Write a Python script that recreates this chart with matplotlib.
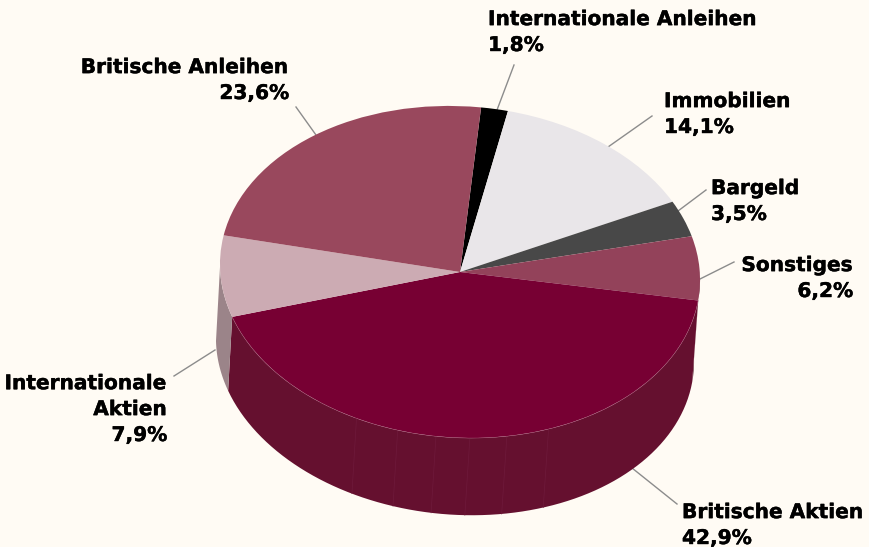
import matplotlib.pyplot as plt
import matplotlib.patheffects as pe
import numpy as np
from matplotlib.transforms import Affine2D

names = ['Internationale Anleihen', 'Immobilien', 'Bargeld', 'Sonstiges',
         'Britische Aktien', 'Internationale\nAktien', 'Britische Anleihen']
shares = [1.8, 14.1, 3.5, 6.2, 42.9, 7.9, 23.6]
top_colors = ['#000000', '#e9e6e9', '#484848', '#93425a', '#770033', '#ccabb3', '#99485d']
wall_colors = ['#000000', '#9c9a9c', '#303030', '#622c3c', '#65102f', '#9b8489', '#66303e']
seam_angles = [-116.5, -106, -96.7, -88.6, -79.7, -69.3]

bg = '#fffbf4'
start_angle = 84

# ellipse of the top face and of the bottom edge, in pixels
top = dict(cx=460, cy=272, rx=240, ry=166, skew=5, lean=-4)
bottom = dict(cx=455, cy=350, rx=239, ry=165, skew=9, lean=-4)

# x, y of last text line, alignment, leader line start and end
labels = [
    (488, 51, 'left', (497, 110), (514, 65)),
    (664, 133, 'left', (608, 147), (652, 116)),
    (711, 220, 'left', (678, 211), (706, 190)),
    (853, 297, 'right', (700, 279), (734, 262)),
    (682, 544, 'left', (632, 468), (677, 504)),
    (167, 441, 'right', (215, 350), (174, 376)),
    (289, 99, 'right', (316, 135), (296, 107)),
]


def ellipse_xy(e, deg):
    t = np.radians(deg)
    x = e['cx'] + e['rx'] * np.cos(t) + e['lean'] * np.sin(t)
    y = e['cy'] - e['ry'] * np.sin(t) + e['skew'] * np.cos(t)
    return x, y


fig = plt.figure(figsize=(8.7, 5.47), dpi=100, facecolor=bg)
ax = fig.add_axes([0, 0, 1, 1])

wedges, _ = ax.pie(shares, colors=top_colors, startangle=start_angle, counterclock=False)
ax.set_aspect('auto')
ax.set_xlim(0, 870)
ax.set_ylim(547, 0)
ax.axis('off')

to_page = Affine2D.from_values(top['rx'], top['skew'], top['lean'], -top['ry'], top['cx'], top['cy'])
for w in wedges:
    w.set_transform(to_page + ax.transData)
    w.set_zorder(5)
    w.set_linewidth(0)

# side walls, only the part of each slice that faces the viewer
edges = start_angle - np.cumsum([0] + shares) * 3.6
for i, color in enumerate(wall_colors):
    a1, a2 = edges[i], edges[i + 1]
    # bring angles into the range where sin is negative
    lo = max(a2, -180)
    hi = min(a1, 0)
    if hi <= lo:
        continue
    deg = np.linspace(hi, lo, 80)
    xt, yt = ellipse_xy(top, deg)
    xb, yb = ellipse_xy(bottom, deg)
    ax.fill(np.r_[xt, xb[::-1]], np.r_[yt, yb[::-1]], color=color, lw=0, zorder=2)

for a in seam_angles:
    xt, yt = ellipse_xy(top, a)
    xb, yb = ellipse_xy(bottom, a)
    ax.plot([xt, xb], [yt, yb], color='#6e1a3b', lw=0.5, zorder=3)

# thin light rim on the front of the big slice
deg = np.linspace(edges[4], edges[5], 200)
xt, yt = ellipse_xy(top, deg)
ax.plot(xt, yt, color='#a8607c', lw=0.3, zorder=6)

for name, val, (x, y, ha, p0, p1) in zip(names, shares, labels):
    ax.plot([p0[0], p1[0]], [p0[1], p1[1]], color='#8c8c8c', lw=1, zorder=1)
    txt = name + '\n' + f'{val:.1f}'.replace('.', ',') + '%'
    t = ax.text(x, y, txt, ha=ha, va='baseline', multialignment=ha, family='DejaVu Sans',
                fontweight='bold', fontsize=14.5, color='black', linespacing=1.46, zorder=7)
    t.set_path_effects([pe.withStroke(linewidth=0.3, foreground='black')])

fig.savefig('out.png', dpi=100, facecolor=bg)
